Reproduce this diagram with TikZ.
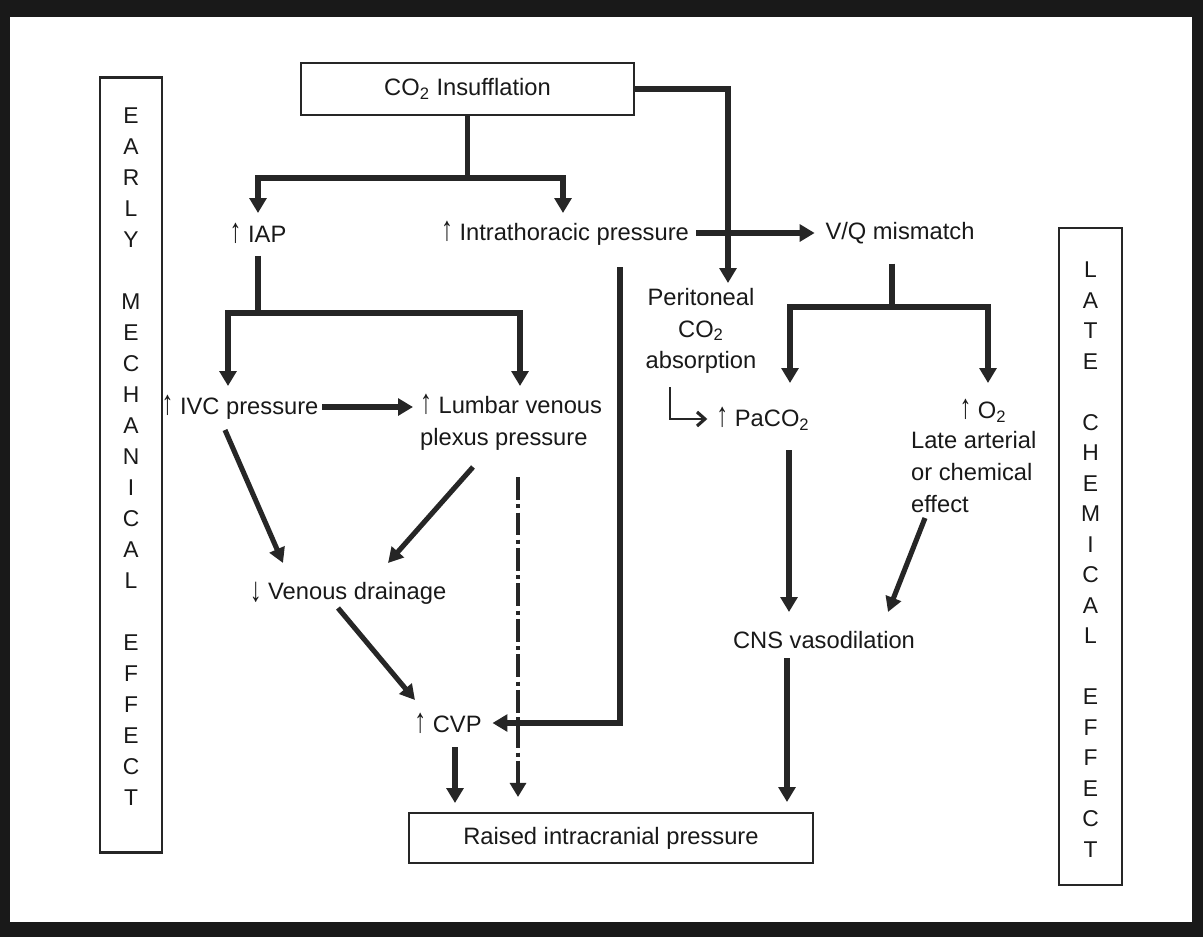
\documentclass[tikz,border=0pt]{standalone}
\usepackage{fontspec}
\usepackage{graphicx}
\setmainfont{Liberation Sans}
\usetikzlibrary{arrows.meta}
\newcommand{\uparw}{\scalebox{1}[1.45]{↑}}
\newcommand{\dnarw}{\raisebox{-0.2ex}{\scalebox{1}[1.45]{↓}}}
\begin{document}
\begin{tikzpicture}[x=0.02cm,y=-0.02cm,
  lbl/.style={font=\fontsize{13.5}{18}\selectfont, inner sep=1pt, text=black!90},
  boxed/.style={draw=black!85, line width=1.3pt, fill=white, font=\fontsize{13.5}{18}\selectfont, inner sep=0pt, text=black!90},
  sidebox/.style={draw=black!85, line width=1.3pt, inner sep=0pt},
  letter/.style={font=\fontsize{13}{14}\selectfont, inner sep=0pt, text=black!90},
  bar/.style={draw=black!85, line width=3.3pt},
  tarr/.style={bar, -{Triangle[width=9.5pt,length=8.5pt]}},
  darr/.style={draw=black!85, line width=2.9pt, -{Triangle[width=9pt,length=8.5pt]}},
  hookarr/.style={draw=black!85, line width=1.4pt, -{Straight Barb[width=8pt,length=4.5pt,line width=1.8pt]}},
  ddarr/.style={draw=black!85, line width=2.5pt, dash pattern=on 13pt off 2.5pt on 2.2pt off 2.5pt, -{Triangle[width=9pt,length=8pt]}},
]
% scan frame
\fill[black!90] (0,0) rectangle (1203,937);
\fill[white] (10,17) rectangle (1192,922);

% side boxes
\node[sidebox, minimum width=1.24cm, minimum height=15.5cm] (early) at (131,465) {};
\foreach \s/\c in {0/E,1/A,2/R,3/L,4/Y,6/M,7/E,8/C,9/H,10/A,11/N,12/I,13/C,14/A,15/L,17/E,18/F,19/F,20/E,21/C,22/T}
  \node[letter] (em\s) at (131,116+\s*31) {\c};
\node[sidebox, minimum width=1.26cm, minimum height=13.14cm] (late) at (1090.5,556.5) {};
\foreach \s/\c in {0/L,1/A,2/T,3/E,5/C,6/H,7/E,8/M,9/I,10/C,11/A,12/L,14/E,15/F,16/F,17/E,18/C,19/T}
  \node[letter] (lc\s) at (1090.5,270+\s*30.5) {\c};

% main nodes
\node[boxed, minimum width=6.66cm, minimum height=1.04cm] (co2) at (467.5,89) {CO\textsubscript{2} Insufflation};
\node[lbl] (iap) at (258,233) {\uparw\ IAP};
\node[lbl] (ith) at (565,233) {\uparw\ Intrathoracic pressure};
\node[lbl] (vq) at (900,233) {V/Q mismatch};
\node[lbl, align=center] (per) at (701,331) {Peritoneal\\CO\textsubscript{2}\\absorption};
\node[lbl] (pa) at (763,419) {\uparw\ PaCO\textsubscript{2}};
\node[lbl] (o2) at (983,411) {\uparw\ O\textsubscript{2}};
\node[lbl, align=left, anchor=west] (lae) at (909,472) {Late arterial\\or chemical\\effect};
\node[lbl] (ivc) at (240,407) {\uparw\ IVC pressure};
\node[lbl, align=left, anchor=west] (lum) at (418,422) {\uparw\ Lumbar venous\\plexus pressure};
\node[lbl] (vd) at (348,593) {\dnarw\ Venous drainage};
\node[lbl] (cvp) at (448,723) {\uparw\ CVP};
\node[lbl] (cns) at (824,640) {CNS vasodilation};
\node[boxed, minimum width=8.08cm, minimum height=1.0cm] (ricp) at (611,838) {Raised intracranial pressure};

% junction and end coordinates
\coordinate (j1) at (467.5,178);
\coordinate (iapin) at (258,213);
\coordinate (ithin) at (563,213);
\coordinate (perin) at (728,283);
\coordinate (j2) at (258,313);
\coordinate (ivcin) at (228,386);
\coordinate (lumin) at (520,386);
\coordinate (t1) at (620,267);
\coordinate (j3) at (892,307);
\coordinate (pain) at (790,383);
\coordinate (o2in) at (988,383);
\coordinate (hk) at (670,387);
\coordinate (ivcout) at (225,430);
\coordinate (vdinl) at (283,563);
\coordinate (lumout) at (473,467);
\coordinate (vdinr) at (388,563);
\coordinate (vdout) at (338,608);
\coordinate (cvpin) at (415,700);
\coordinate (ddtop) at (518,477);
\coordinate (ddend) at (518,797);
\coordinate (cvpout) at (455,747);
\coordinate (ricpl) at (455,803);
\coordinate (paout) at (789,450);
\coordinate (cnsin) at (789,612);
\coordinate (laeout) at (925,518);
\coordinate (cnsinr) at (888,612);
\coordinate (cnsout) at (787,658);
\coordinate (ricpr) at (787,802);

% connectors
\draw[bar] (co2.south) -- (j1);
\draw[tarr] (j1) -| (iapin);
\draw[tarr] (j1) -| (ithin);
\draw[tarr] (co2.east) -| (perin);
\draw[tarr] ([xshift=3pt]ith.east) -- ([xshift=-5pt]vq.west);
\draw[tarr] (t1) |- ([xshift=5pt]cvp.east);
\draw[bar] ([yshift=-6pt]iap.south) -- (j2);
\draw[tarr] (j2) -| (ivcin);
\draw[tarr] (j2) -| (lumin);
\draw[tarr, line width=3.7pt] ([xshift=1pt]ivc.east) -- (ivc.east -| {(413,0)});
\draw[bar] ([yshift=-10pt]vq.south -| j3) -- (j3);
\draw[tarr] (j3) -| (pain);
\draw[tarr] (j3) -| (o2in);
\draw[hookarr] (hk) |- ([xshift=-4pt]pa.west);
\draw[darr] (ivcout) -- (vdinl);
\draw[darr] (lumout) -- (vdinr);
\draw[darr] (vdout) -- (cvpin);
\draw[ddarr] (ddtop) -- (ddend);
\draw[tarr] (cvpout) -- (ricpl);
\draw[tarr] (paout) -- (cnsin);
\draw[darr] (laeout) -- (cnsinr);
\draw[tarr] (cnsout) -- (ricpr);
\end{tikzpicture}
\end{document}
